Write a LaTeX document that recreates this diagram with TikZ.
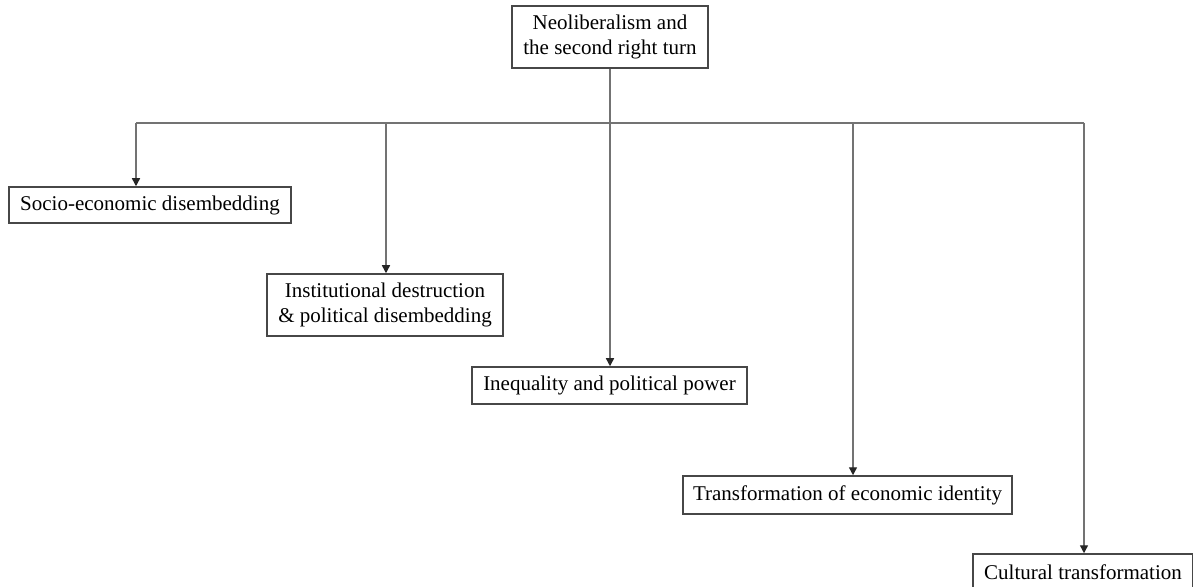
\documentclass[tikz,border=0pt]{standalone}
\usepackage{fontspec}
\setmainfont{Liberation Serif}
\usetikzlibrary{arrows.meta}
\begin{document}
\begin{tikzpicture}[x=0.5pt,y=-0.5pt,
  box/.style={draw=black!72,line width=0.75pt,fill=white,inner sep=0pt,align=center,
    font=\fontsize{10.5pt}{12.6pt}\selectfont},
  conn/.style={draw=black!55,line width=0.7pt},
  arr/.style={conn,-{Triangle[length=4pt,width=4pt,color=black!85]}}]
\useasboundingbox (0,0) rectangle (1193,587);
\node[box,minimum width=98pt,minimum height=31pt] (top) at (610,37) {Neoliberalism and\\the second right turn};
\node[box,minimum width=141pt,minimum height=18pt] (socio) at (150,205) {Socio-economic disembedding};
\node[box,minimum width=118pt,minimum height=31pt] (inst) at (385,305) {Institutional destruction\\\& political disembedding};
\node[box,minimum width=137.5pt,minimum height=18.5pt] (ineq) at (609.5,385.5) {Inequality and political power};
\node[box,minimum width=164.5pt,minimum height=19pt] (trans) at (847.5,495) {Transformation of economic identity};
\node[box,minimum width=110pt,minimum height=18pt] (cult) at (1083,572) {Cultural transformation};
\coordinate (j1) at (136,123);
\coordinate (j2) at (386,123);
\coordinate (j3) at (610,123);
\coordinate (j4) at (853,123);
\coordinate (j5) at (1084,123);
\draw[conn] (j1) -- (j5);
\draw[arr] (top.south -| j3) -- (j3 |- ineq.north);
\draw[arr] (j1) -- (j1 |- socio.north);
\draw[arr] (j2) -- (j2 |- inst.north);
\draw[arr] (j4) -- (j4 |- trans.north);
\draw[arr] (j5) -- (j5 |- cult.north);
\end{tikzpicture}
\end{document}
